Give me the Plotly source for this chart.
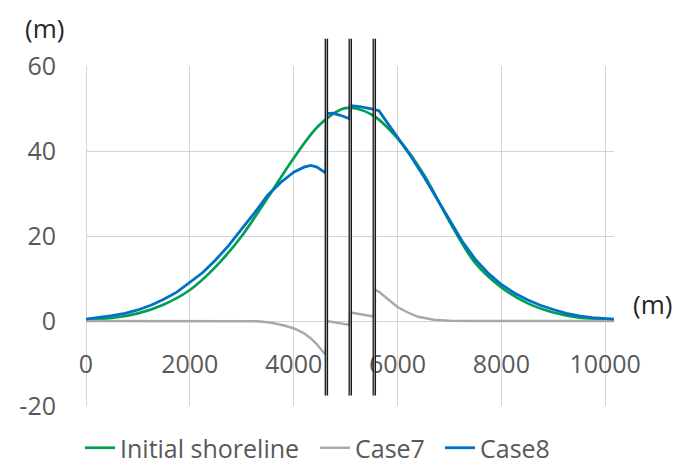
import plotly.graph_objects as go

# ---------------- data ----------------
x_init = [0, 500, 1000, 1500, 2000, 2500, 3000, 3500, 4000, 4500, 5000,
          5500, 6000, 6500, 7000, 7500, 8000, 8500, 9000, 9500, 10170]
y_init = [0.4, 0.7, 1.8, 3.9, 7.3, 12.8, 20.0, 29.0, 38.3, 46.2, 50.1,
          48.6, 43.0, 34.6, 23.4, 13.6, 7.9, 4.2, 2.0, 0.8, 0.4]

x_case7 = [0, 3000, 3300, 3545, 3800, 4000, 4200, 4320, 4450, 4540, 4620,
           4630, 4850, 5080, 5090, 5300, 5545, 5560, 5650, 5800, 6000, 6200,
           6400, 6700, 7000, 7500, 10170]
y_case7 = [0, 0, -0.05, -0.35, -1.0, -1.7, -2.9, -4.0, -5.5, -6.9, -8.0,
           0.0, -0.4, -0.9, 2.0, 1.5, 1.05, 7.4, 6.8, 5.3, 3.3, 2.0,
           1.0, 0.3, 0.05, 0, 0]

x_case8 = [0, 250, 500, 750, 1000, 1250, 1500, 1750, 2000, 2250, 2500, 2750,
           3000, 3250, 3500, 3750, 4000, 4200, 4330, 4450, 4550, 4620,
           4630, 4750, 4900, 5080,
           5090, 5300, 5545, 5560, 5640,
           5800, 6000, 6250, 6500, 6750, 7000, 7250, 7500, 7750, 8000, 8250,
           8500, 8750, 9000, 9250, 9500, 9750, 10170]
y_case8 = [0.45, 0.8, 1.25, 1.8, 2.6, 3.7, 5.1, 6.8, 9.0, 11.4, 14.4, 17.8,
           21.7, 25.5, 29.6, 32.6, 35.0, 36.2, 36.6, 36.2, 35.4, 34.8,
           48.8, 48.9, 48.4, 47.6,
           50.7, 50.4, 49.8, 49.7, 49.5,
           46.7, 43.3, 38.9, 34.1, 28.9, 23.7, 18.7, 14.5, 11.2, 8.6, 6.6,
           5.0, 3.7, 2.7, 1.8, 1.2, 0.8, 0.45]

groin_x = [4630, 5090, 5553]
groin_top = 66.4
groin_bottom = -17.5

x_ticks = [0, 2000, 4000, 6000, 8000, 10000]
y_ticks = [-20, 0, 20, 40, 60]
x_range = [0, 10170]
y_range = [-20, 60]

# ---------------- layout constants ----------------
W, H = 675, 470
ML, MR, MT, MB = 86, 61, 66, 64
PW = W - ML - MR
PH = H - MT - MB
FONT = "Open Sans"
TICK_COLOR = "#595959"
GRID = "#D4D4D4"


def ypaper(v):
    return (v - y_range[0]) / (y_range[1] - y_range[0])


def px_to_paper_x(px):
    return (px - ML) / PW


def px_to_paper_y(py):
    return (H - MB - py) / PH


fig = go.Figure()
fig.add_trace(go.Scatter(x=x_init, y=y_init, mode="lines", name="Initial shoreline",
                         legend="legend",
                         line=dict(color="#00A04E", width=2.7, shape="spline", smoothing=1.0)))
fig.add_trace(go.Scatter(x=x_case7, y=y_case7, mode="lines", name="Case7",
                         legend="legend2",
                         line=dict(color="#A8A8A8", width=2.4)))
fig.add_trace(go.Scatter(x=x_case8, y=y_case8, mode="lines", name="Case8",
                         legend="legend3",
                         line=dict(color="#0070C8", width=2.8)))

# groins: double black lines
unit_per_px = (x_range[1] - x_range[0]) / PW
d = 1.1 * unit_per_px
shapes = []
for gx in groin_x:
    y0 = ypaper(groin_bottom)
    y1 = ypaper(groin_top)
    shapes.append(dict(type="line", xref="x", yref="paper", x0=gx, x1=gx, y0=y0, y1=y1,
                       line=dict(color="#B0B0B0", width=1.2), layer="above"))
    for s in (-1, 1):
        shapes.append(dict(type="line", xref="x", yref="paper", x0=gx + s * d, x1=gx + s * d,
                           y0=y0, y1=y1, line=dict(color="#1A1A1A", width=1.3), layer="above"))

annotations = [
    dict(text="(m)", xref="paper", yref="paper", x=px_to_paper_x(44), y=px_to_paper_y(28),
         showarrow=False, xanchor="center", yanchor="middle",
         font=dict(family=FONT, size=26, color="#262626")),
    dict(text="(m)", xref="paper", yref="paper", x=px_to_paper_x(652), y=px_to_paper_y(304),
         showarrow=False, xanchor="center", yanchor="middle",
         font=dict(family=FONT, size=26, color="#262626")),
]


def legend_at(text_left_px):
    return dict(orientation="h", x=px_to_paper_x(text_left_px - 40), y=px_to_paper_y(448),
                xanchor="left", yanchor="middle",
                font=dict(family=FONT, size=25, color=TICK_COLOR),
                bgcolor="rgba(0,0,0,0)", itemwidth=30)


fig.update_layout(
    width=W, height=H,
    margin=dict(l=ML, r=MR, t=MT, b=MB, pad=0, autoexpand=False),
    paper_bgcolor="white", plot_bgcolor="white",
    font=dict(family=FONT, color=TICK_COLOR),
    shapes=shapes, annotations=annotations,
    showlegend=True,
    legend=legend_at(120),
    legend2=legend_at(355),
    legend3=legend_at(480),
    xaxis=dict(range=x_range, tickvals=x_ticks, ticktext=[str(v) for v in x_ticks],
               showgrid=True, gridcolor=GRID, gridwidth=1.2,
               zeroline=True, zerolinecolor=GRID, zerolinewidth=1.2,
               showline=False, ticks="", anchor="free", position=ypaper(0),
               tickfont=dict(family=FONT, size=25, color=TICK_COLOR),
               ticklabelstandoff=26),
    yaxis=dict(range=y_range, tickvals=y_ticks, ticktext=[str(v) for v in y_ticks],
               showgrid=True, gridcolor=GRID, gridwidth=1.2,
               zeroline=True, zerolinecolor=GRID, zerolinewidth=1.2,
               showline=False, ticks="",
               tickfont=dict(family=FONT, size=25, color=TICK_COLOR),
               ticklabelstandoff=29),
)

fig.write_html("out.html")
